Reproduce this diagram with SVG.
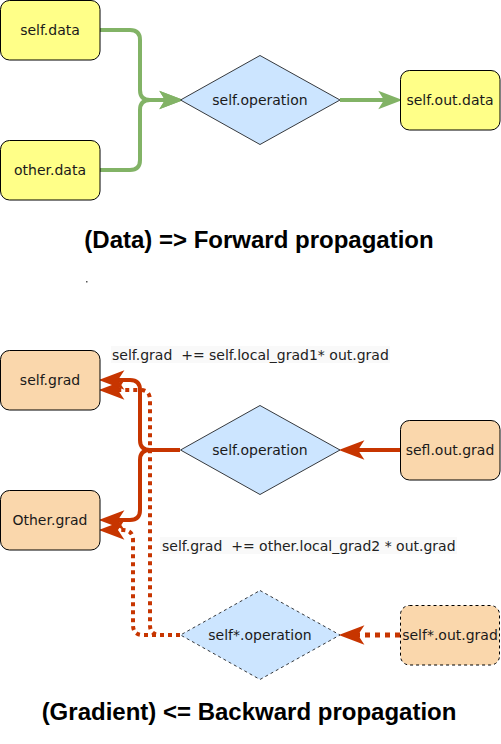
<svg xmlns="http://www.w3.org/2000/svg" width="501" height="744" viewBox="0 0 501 744">
<style>
.box{stroke:#000;stroke-width:1}
.yellow{fill:#ffff88}
.orange{fill:#fad7ac}
.dia{fill:#cce5ff;stroke:#36393d;stroke-width:1}
.dash{stroke-dasharray:3 3}
.t{font-family:"DejaVu Sans",Verdana,sans-serif;font-size:14px;fill:#1a1a1a;text-anchor:middle;dominant-baseline:central}
.lbl{font-family:"DejaVu Sans",Verdana,sans-serif;font-size:14px;fill:#222}
.title{font-family:"Liberation Sans",Arial,sans-serif;font-size:24px;font-weight:bold;fill:#000;text-anchor:middle}
.g{fill:none;stroke:#82b366;stroke-width:4}
.r{fill:none;stroke:#c73500;stroke-width:4}
.rd{fill:none;stroke:#c73500;stroke-width:4;stroke-dasharray:4 4}
</style>
<defs>
<marker id="ag" markerUnits="userSpaceOnUse" orient="auto" markerWidth="30" markerHeight="30" refX="5" refY="0" viewBox="-2 -12 26 24">
<path d="M0,-8 L21,0 L0,8 L5,0 Z" fill="#82b366"/>
</marker>
<marker id="ar" markerUnits="userSpaceOnUse" orient="auto" markerWidth="30" markerHeight="30" refX="6" refY="0" viewBox="-2 -12 28 24">
<path d="M0,-9 L24,0 L0,9 L6,0 Z" fill="#c73500"/>
</marker>
</defs>

<g id="connectors">
<path class="g" d="M100,30 H130 Q140,30 140,40 V90 Q140,100 150,100 H165" marker-end="url(#ag)"/>
<path class="g" d="M100,170 H130 Q140,170 140,160 V110 Q140,100 150,100 H165" marker-end="url(#ag)"/>
<path class="g" d="M340,100 H384" marker-end="url(#ag)"/>

<path class="rd" d="M180,635 H160 Q150,635 150,625 V400 Q150,390 140,390 H118" marker-end="url(#ar)"/>
<path class="rd" d="M180,635 H143 Q133,635 133,625 V540 Q133,530 123,530 H118" marker-end="url(#ar)"/>
<path class="rd" style="stroke-width:5;stroke-dasharray:5 5" d="M400,635 H358" marker-end="url(#ar)"/>

<path class="r" d="M400,450 H358" marker-end="url(#ar)"/>
<path class="r" d="M180,450 H150 Q140,450 140,440 V390 Q140,380 130,380 H118" marker-end="url(#ar)"/>
<path class="r" d="M180,450 H150 Q140,450 140,460 V510 Q140,520 130,520 H118" marker-end="url(#ar)"/>
</g>

<g id="self-data"><rect class="box yellow" x="0.5" y="0.5" width="99.5" height="59.5" rx="9"/><text class="t" x="50" y="30">self.data</text></g>
<g id="other-data"><rect class="box yellow" x="0.5" y="140.5" width="99.5" height="59.5" rx="9"/><text class="t" x="50" y="170">other.data</text></g>
<g id="self-operation-fwd"><path class="dia" d="M260,55.5 L340,100 L260,144.5 L180.5,100 Z"/><text class="t" x="260" y="100">self.operation</text></g>
<g id="self-out-data"><rect class="box yellow" x="400.5" y="70.5" width="99.5" height="59.5" rx="9"/><text class="t" x="450" y="100">self.out.data</text></g>

<text class="title" x="259" y="248">(Data) =&gt; Forward propagation</text>
<rect x="86" y="281" width="1.5" height="1.5" fill="#555"/>

<g id="self-grad"><rect class="box orange" x="0.5" y="350.5" width="99.5" height="59.5" rx="9"/><text class="t" x="50" y="380">self.grad</text></g>
<g id="other-grad"><rect class="box orange" x="0.5" y="490.5" width="99.5" height="59.5" rx="9"/><text class="t" x="50" y="520">Other.grad</text></g>
<g id="self-operation-bwd"><path class="dia" d="M260,405.5 L340,450 L260,494.5 L180.5,450 Z"/><text class="t" x="260" y="450">self.operation</text></g>
<g id="sefl-out-grad"><rect class="box orange" x="400.5" y="420.5" width="99.5" height="59.5" rx="9"/><text class="t" x="450" y="450">sefl.out.grad</text></g>
<g id="selfstar-operation"><path class="dia dash" d="M260,590.5 L340,635 L260,679.5 L180.5,635 Z"/><text class="t" x="260" y="635">self*.operation</text></g>
<g id="selfstar-out-grad"><rect class="box orange dash" x="400.5" y="605.5" width="99" height="59.5" rx="9"/><text class="t" x="450" y="635">self*.out.grad</text></g>

<g id="label1"><rect x="111" y="346" width="279" height="17" fill="#f9f9f9"/><text class="lbl" x="112" y="359.5" xml:space="preserve">self.grad  += self.local_grad1* out.grad</text></g>
<g id="label2"><rect x="160" y="537" width="297" height="17" fill="#f9f9f9"/><text class="lbl" x="162" y="550.5" xml:space="preserve">self.grad  += other.local_grad2 * out.grad</text></g>

<text class="title" x="249" y="720">(Gradient) &lt;= Backward propagation</text>
</svg>
